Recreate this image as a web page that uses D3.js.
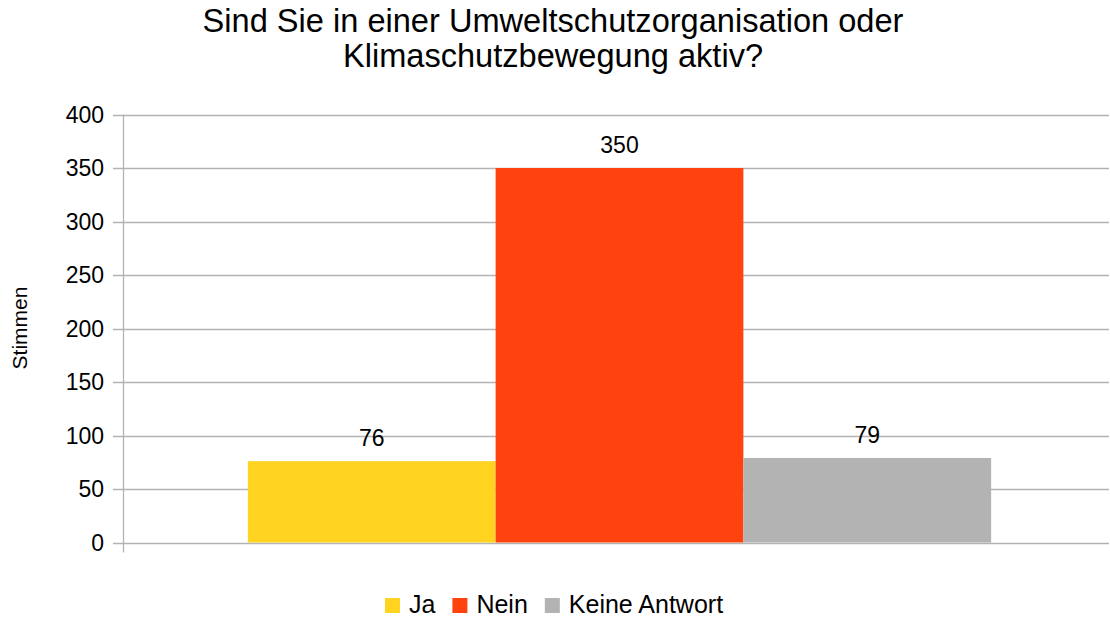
<!DOCTYPE html>
<html><head><meta charset="utf-8">
<script src="https://cdn.jsdelivr.net/npm/d3@7"></script>
<style>body{margin:0;background:#fff}svg{display:block;font-family:"Liberation Sans",Arial,sans-serif}</style>
</head><body><svg id="c" width="1110" height="617"></svg>
<script>
const titleLines = ["Sind Sie in einer Umweltschutzorganisation oder", "Klimaschutzbewegung aktiv?"];
const series = ["Ja", "Nein", "Keine Antwort"];
const values = [76, 350, 79];
const colors = ["#ffd320", "#ff420e", "#b3b3b3"];
const yTicks = [0, 50, 100, 150, 200, 250, 300, 350, 400];
const yTitle = "Stimmen";

const svg = d3.select("#c");
const m = {left: 123, right: 1109, top: 114.5, bottom: 542.5};
const y = d3.scaleLinear().domain([0, 400]).range([m.bottom, m.top]);
const x0 = d3.scaleBand().domain(["g"]).range([m.left, 1116]).paddingInner(0).paddingOuter(0.168);
const x1 = d3.scaleBand().domain(series).range([x0("g"), x0("g") + x0.bandwidth()]);

// gridlines
svg.append("g").selectAll("line").data(yTicks).join("line")
  .attr("x1", m.left - 10).attr("x2", m.right)
  .attr("y1", d => Math.round(y(d)) + 0.5).attr("y2", d => Math.round(y(d)) + 0.5)
  .attr("stroke", "#b3b3b3").attr("stroke-width", 1.3);
// y axis line
svg.append("line").attr("x1", m.left + 0.5).attr("x2", m.left + 0.5)
  .attr("y1", m.top).attr("y2", m.bottom + 10).attr("stroke", "#b3b3b3").attr("stroke-width", 1.3);
// tick labels
svg.append("g").selectAll("text").data(yTicks).join("text")
  .attr("x", 104).attr("y", d => y(d) + 8)
  .attr("text-anchor", "end").attr("font-size", 23).attr("fill", "#000")
  .text(d => d);

// bars
svg.append("g").selectAll("rect").data(series).join("rect")
  .attr("x", d => x1(d)).attr("width", x1.bandwidth())
  .attr("y", (d, i) => y(values[i])).attr("height", (d, i) => y(0) - y(values[i]))
  .attr("fill", (d, i) => colors[i]);
// data labels
svg.append("g").selectAll("text").data(series).join("text")
  .attr("x", d => x1(d) + x1.bandwidth() / 2).attr("y", (d, i) => y(values[i]) - 15)
  .attr("text-anchor", "middle").attr("font-size", 23).attr("fill", "#000")
  .text((d, i) => values[i]);

// title
svg.append("g").selectAll("text").data(titleLines).join("text")
  .attr("x", 553).attr("y", (d, i) => 32 + i * 35)
  .attr("text-anchor", "middle").attr("font-size", 32.6).attr("fill", "#000")
  .text(d => d);

// y title
svg.append("text").attr("transform", "translate(27,328) rotate(-90)")
  .attr("text-anchor", "middle").attr("font-size", 21).attr("fill", "#000").text(yTitle);

// legend
const legend = svg.append("g");
let lx = 385;
series.forEach((s, i) => {
  legend.append("rect").attr("x", lx).attr("y", 598).attr("width", 15).attr("height", 15).attr("fill", colors[i]);
  const t = legend.append("text").attr("x", lx + 24).attr("y", 613).attr("font-size", 25).attr("fill", "#000").text(s);
  lx += 24 + t.node().getComputedTextLength() + 17;
});
</script></body></html>
